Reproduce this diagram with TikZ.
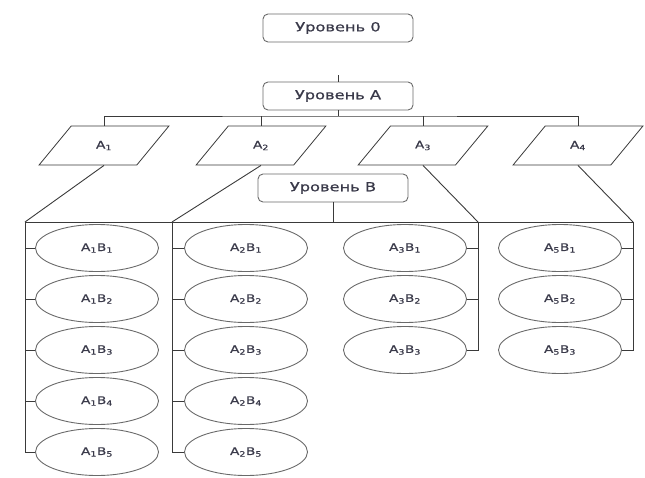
\documentclass[tikz,border=0pt]{standalone}
\usepackage{fontspec}
\setmainfont[FakeStretch=1.3,FakeBold=0.8]{DejaVu Sans}
\usetikzlibrary{shapes.geometric}
\definecolor{linegray}{HTML}{3A3A3A}
\definecolor{boxgray}{HTML}{6A6A6A}
\definecolor{textgray}{HTML}{3A3A4A}
\tikzset{
  levelbox/.style={draw=boxgray,line width=0.9pt,rounded corners=5pt,minimum width=150pt,minimum height=28pt,
    text=textgray,font=\fontsize{12.5}{14}\selectfont},
  groupbox/.style={trapezium,trapezium left angle=50,trapezium right angle=130,trapezium stretches=true,
    draw=linegray,line width=0.8pt,minimum width=130pt,minimum height=39pt,inner sep=0pt,
    text=textgray,font=\fontsize{10.5}{12}\selectfont},
  pairnode/.style={ellipse,draw=boxgray,line width=0.9pt,minimum width=123pt,minimum height=47pt,inner sep=0pt,
    text=textgray,font=\fontsize{10.5}{12}\selectfont},
  link/.style={draw=linegray,line width=0.9pt}
}
\begin{document}
\begin{tikzpicture}[x=1pt,y=-1pt]
\useasboundingbox (0,0) rectangle (645,477);
% levels
\node[levelbox] (lvl0) at (338,28) {Уровень 0};
\node[levelbox] (lvlA) at (338,96) {Уровень A};
\node[levelbox] (lvlB) at (333,188) {Уровень B};
\coordinate (stubA) at (338,75);
\coordinate (busA) at (338,116);
\coordinate (busB) at (333,222);
% groups
\node[groupbox] (gA1) at (104,145.5) {A\textsubscript{1}};
\node[groupbox] (gA2) at (261,145.5) {A\textsubscript{2}};
\node[groupbox] (gA3) at (423,145.5) {A\textsubscript{3}};
\node[groupbox] (gA4) at (578,145.5) {A\textsubscript{4}};
\coordinate (col1) at (25,222);
\coordinate (col2) at (172,222);
\coordinate (col3) at (478,222);
\coordinate (col4) at (633,222);
% pairs
\node[pairnode] (a1b1) at (97,248) {A\textsubscript{1}B\textsubscript{1}};
\node[pairnode] (a1b2) at (97,299) {A\textsubscript{1}B\textsubscript{2}};
\node[pairnode] (a1b3) at (97,350) {A\textsubscript{1}B\textsubscript{3}};
\node[pairnode] (a1b4) at (97,401) {A\textsubscript{1}B\textsubscript{4}};
\node[pairnode] (a1b5) at (97,452) {A\textsubscript{1}B\textsubscript{5}};
\node[pairnode] (a2b1) at (246,248) {A\textsubscript{2}B\textsubscript{1}};
\node[pairnode] (a2b2) at (246,299) {A\textsubscript{2}B\textsubscript{2}};
\node[pairnode] (a2b3) at (246,350) {A\textsubscript{2}B\textsubscript{3}};
\node[pairnode] (a2b4) at (246,401) {A\textsubscript{2}B\textsubscript{4}};
\node[pairnode] (a2b5) at (246,452) {A\textsubscript{2}B\textsubscript{5}};
\node[pairnode] (a3b1) at (405,248) {A\textsubscript{3}B\textsubscript{1}};
\node[pairnode] (a3b2) at (405,299) {A\textsubscript{3}B\textsubscript{2}};
\node[pairnode] (a3b3) at (405,350) {A\textsubscript{3}B\textsubscript{3}};
\node[pairnode] (a4b1) at (560,248) {A\textsubscript{5}B\textsubscript{1}};
\node[pairnode] (a4b2) at (560,299) {A\textsubscript{5}B\textsubscript{2}};
\node[pairnode] (a4b3) at (560,350) {A\textsubscript{5}B\textsubscript{3}};
% connectors
\draw[link] (stubA) -- (lvlA.north);
\draw[link] (lvlA.south) -- (busA);
\draw[link] (gA1.north) |- (busA) -| (gA4.north);
\draw[link] (gA2.north) -- (gA2.north |- busA);
\draw[link] (gA3.north) -- (gA3.north |- busA);
\draw[link] (lvlB.south) -- (busB);
\draw[link] (col1) -- (col4);
\draw[link] (gA1.south) -- (col1);
\draw[link] (gA2.south) -- (col2);
\draw[link] (gA3.south) -- (col3);
\draw[link] (gA4.south) -- (col4);
\draw[link] (col1) |- (a1b5.west);
\draw[link] (a1b1.west) -- (a1b1.west -| col1);
\draw[link] (a1b2.west) -- (a1b2.west -| col1);
\draw[link] (a1b3.west) -- (a1b3.west -| col1);
\draw[link] (a1b4.west) -- (a1b4.west -| col1);
\draw[link] (col2) |- (a2b5.west);
\draw[link] (a2b1.west) -- (a2b1.west -| col2);
\draw[link] (a2b2.west) -- (a2b2.west -| col2);
\draw[link] (a2b3.west) -- (a2b3.west -| col2);
\draw[link] (a2b4.west) -- (a2b4.west -| col2);
\draw[link] (col3) |- (a3b3.east);
\draw[link] (a3b1.east) -- (a3b1.east -| col3);
\draw[link] (a3b2.east) -- (a3b2.east -| col3);
\draw[link] (col4) |- (a4b3.east);
\draw[link] (a4b1.east) -- (a4b1.east -| col4);
\draw[link] (a4b2.east) -- (a4b2.east -| col4);
\end{tikzpicture}
\end{document}
